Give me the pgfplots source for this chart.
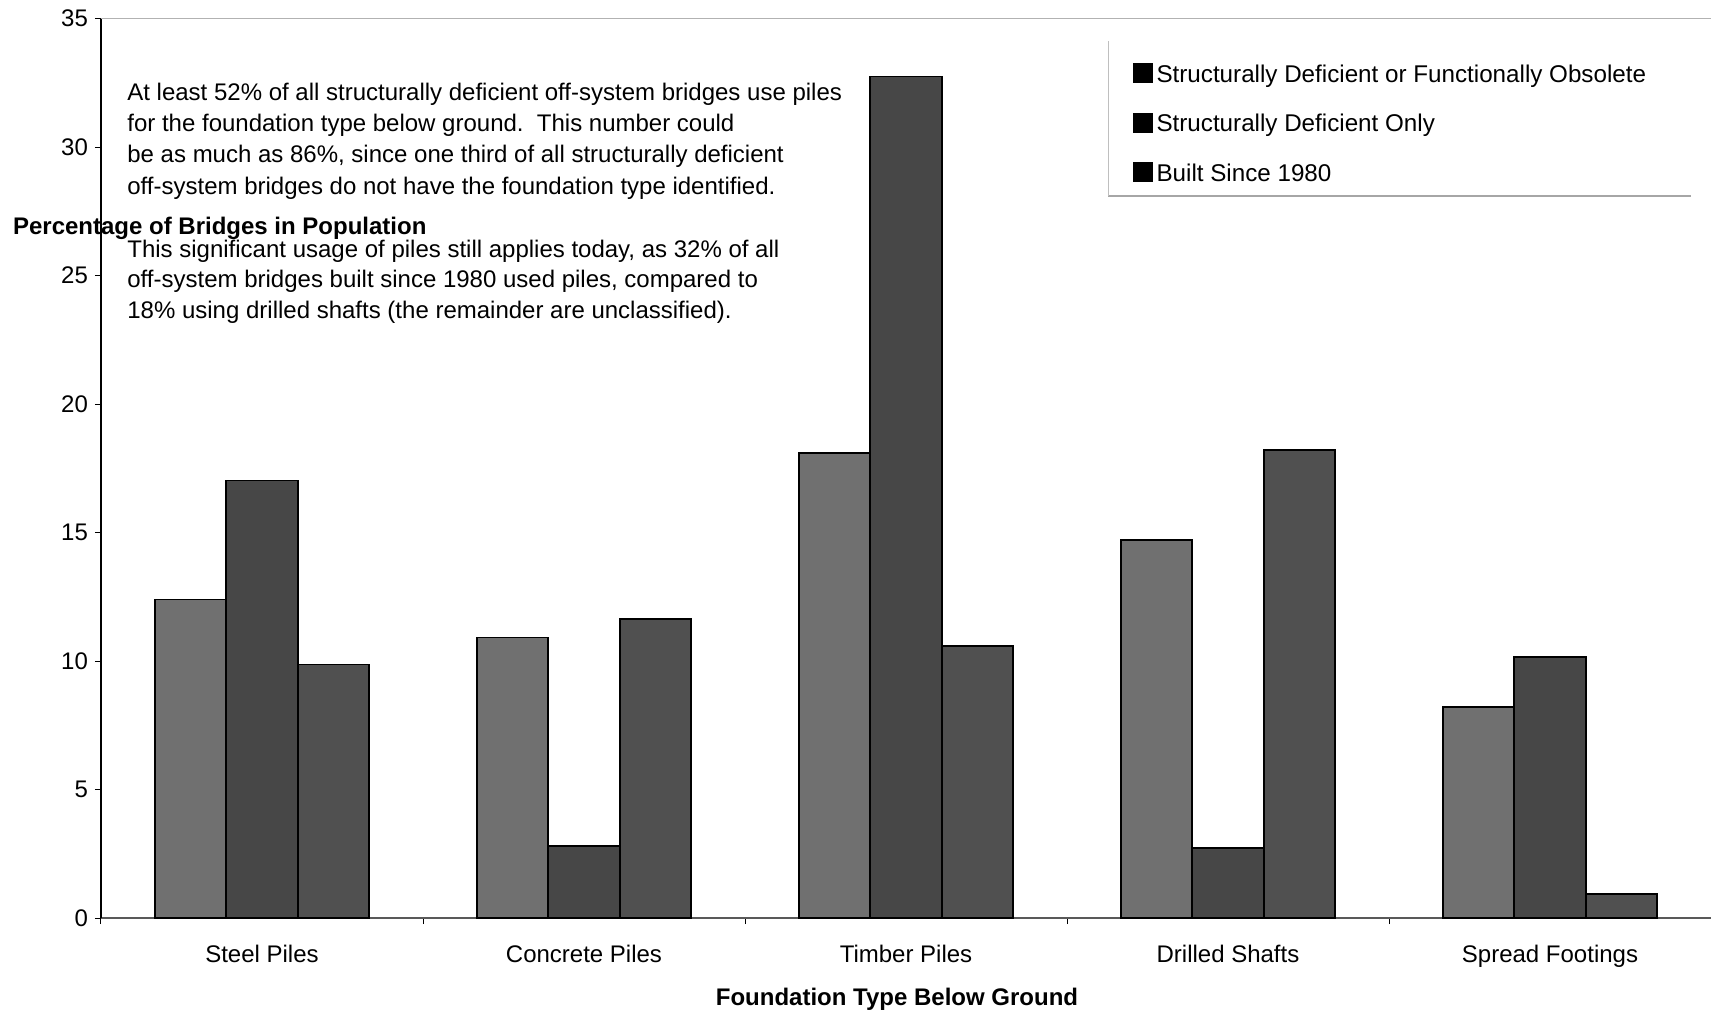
\documentclass[border=0pt]{standalone}
\usepackage{fontspec}
\setmainfont{Liberation Sans}
\usepackage{pgfplots}
\pgfplotsset{compat=1.18}
\definecolor{barA}{HTML}{707070}
\definecolor{barB}{HTML}{474747}
\definecolor{barC}{HTML}{505050}
\begin{document}
\begin{tikzpicture}
\useasboundingbox (0,0) rectangle (855.5pt,506.5pt);
\begin{axis}[
  at={(50.5pt,47.5pt)}, anchor=south west,
  scale only axis, width=805pt, height=449.75pt,
  xmin=-0.5, xmax=4.5, ymin=0, ymax=35,
  ybar=0pt, bar width=0.222,
  xtick={0,1,2,3,4},
  xticklabels={Steel Piles, Concrete Piles, Timber Piles, Drilled Shafts, Spread Footings},
  minor xtick={-0.5,0.5,1.5,2.5,3.5,4.5},
  ytick={0,5,...,35},
  axis x line*=bottom, axis y line*=left,
  x axis line style={gray!70!black, line width=0.6pt},
  y axis line style={black, line width=0.6pt},
  tick align=outside,
  major x tick style={draw=none},
  minor x tick style={black, line width=0.5pt},
  major tick length=3pt, minor tick length=3pt,
  y tick style={black, line width=0.5pt},
  /pgf/number format/assume math mode=true,
  tick label style={font=\fontsize{12}{14}\selectfont},
  xticklabel style={yshift=-7pt},
  xlabel={Foundation Type Below Ground},
  x label style={at={(axis description cs:0.4944,-0.0900)}, anchor=center, font=\fontsize{12}{14}\selectfont\bfseries},
  ylabel={Percentage of Bridges in Population},
  every axis y label/.style={at={(axis description cs:-0.0590,0.7598)}, anchor=base west, font=\fontsize{12}{14}\selectfont\bfseries},
  legend style={at={(0.633,0.9665)}, anchor=north west, draw=none, fill=none,
    font=\fontsize{12.1}{14}\selectfont, row sep=10.4pt, inner xsep=6pt, inner ysep=6pt},
  legend cell align=left,
  legend image code/.code={\fill[black] (0pt,-3.7pt) rectangle (9.2pt,5.5pt);},
  clip=false,
]
\addplot[fill=barA, draw=black, line width=0.8pt] coordinates {(0,12.4) (1,10.92) (2,18.1) (3,14.7) (4,8.2)};
\addplot[fill=barB, draw=black, line width=0.8pt] coordinates {(0,17.03) (1,2.8) (2,32.75) (3,2.72) (4,10.15)};
\addplot[fill=barC, draw=black, line width=0.8pt] coordinates {(0,9.86) (1,11.64) (2,10.58) (3,18.22) (4,0.93)};
\legend{Structurally Deficient or Functionally Obsolete, Structurally Deficient Only, Built Since 1980}
\draw[gray!60, line width=0.5pt] (rel axis cs:0,1) -- (rel axis cs:1,1);
\end{axis}
\draw[gray!70, line width=0.6pt] (554pt,408.5pt) -- (845.5pt,408.5pt);
\draw[gray!50, line width=0.5pt] (554pt,408.5pt) -- (554pt,486pt);
\begin{scope}[every node/.style={anchor=base west, inner sep=0pt, font=\fontsize{12}{14}\selectfont}]
\node at (63.5pt,456.3pt) {At least 52\% of all structurally deficient off-system bridges use piles};
\node at (63.5pt,440.5pt) {for the foundation type below ground.\ \ This number could};
\node at (63.5pt,425.2pt) {be as much as 86\%, since one third of all structurally deficient};
\node at (63.5pt,409.4pt) {off-system bridges do not have the foundation type identified.};
\node at (63.5pt,377.7pt) {This significant usage of piles still applies today, as 32\% of all};
\node at (63.5pt,362.5pt) {off-system bridges built since 1980 used piles, compared to};
\node at (63.5pt,347.2pt) {18\% using drilled shafts (the remainder are unclassified).};
\end{scope}
\end{tikzpicture}
\end{document}
